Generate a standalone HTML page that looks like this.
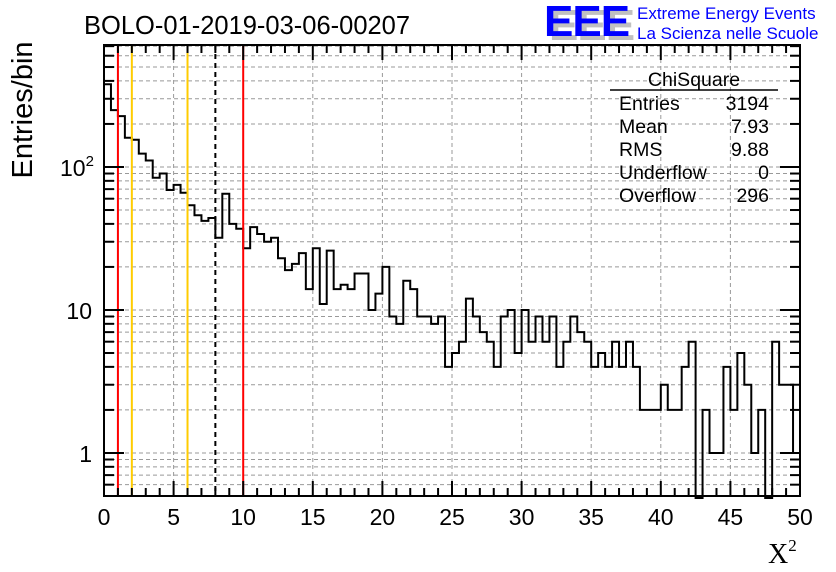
<!DOCTYPE html>
<html><head><meta charset="utf-8"><style>
body{margin:0;background:#fff}
svg{display:block;font-family:"Liberation Sans",sans-serif}
</style></head><body>
<svg id="c" width="836" height="572" viewBox="0 0 836 572">
<rect x="0" y="0" width="836" height="572" fill="#fff"/>
<g id="grid"></g>
<g id="marks"></g>
<g id="axes"></g>
<text x="84" y="34" font-size="25.5">BOLO-01-2019-03-06-00207</text>
<g>
<text x="549" y="40" font-size="44" font-weight="bold" fill="#c0c0c0" letter-spacing="-1">EEE</text>
<text x="544" y="36" font-size="44" font-weight="bold" fill="#0000ff" letter-spacing="-1">EEE</text>
<text x="637" y="19" font-size="17" fill="#0000ff">Extreme Energy Events</text>
<text x="637" y="39" font-size="17" fill="#0000ff">La Scienza nelle Scuole</text>
</g>
<g font-size="19.5">
<text x="694" y="86" text-anchor="middle">ChiSquare</text>
<line x1="610" y1="90" x2="778" y2="90" stroke="#000" stroke-width="1.5"/>
<text x="619" y="110">Entries</text><text x="769" y="110" text-anchor="end">3194</text>
<text x="619" y="133">Mean</text><text x="769" y="133" text-anchor="end">7.93</text>
<text x="619" y="156">RMS</text><text x="769" y="156" text-anchor="end">9.88</text>
<text x="619" y="179">Underflow</text><text x="769" y="179" text-anchor="end">0</text>
<text x="619" y="202">Overflow</text><text x="769" y="202" text-anchor="end">296</text>
</g>
<text transform="translate(32,110) rotate(-90)" text-anchor="middle" font-size="29">Entries/bin</text>
<text x="768" y="563" font-size="28" font-family="Liberation Serif,serif">X<tspan font-size="17" dy="-12">2</tspan></text>
</svg>
<script>
const counts = [379,250,227,160,155,124,111,84,90,69,75,66,54,46,42,44,32,65,40,37,
27,38,34,30,32,23,19,21,25,14,27,11,26,14,15,14,18,18,10,13,
20,9,8,16,14,9,9,8,9,4,5,6,12,9,7,6,4,9,10,5,
10,6,9,6,9,4,6,9,7,6,4,5,4,6,4,6,4,2,2,2,
3,2,2,4,6,0,2,1,1,4,2,5,3,1,2,0,6,3,3,1];
const xTicks = [0,5,10,15,20,25,30,35,40,45,50];
const cutLines = [{x:1,c:"#ff0000",d:""},{x:2,c:"#ffcc00",d:""},{x:6,c:"#ffcc00",d:""},{x:8,c:"#000",d:"5,4"},{x:10,c:"#ff0000",d:""}];
const binWidth = 0.5;
const X0=104,X1=800,Y0=45,Y1=496,YMIN=0.5,YMAX=713;
const NS="http://www.w3.org/2000/svg";
function sx(v){return X0+(v-0)/(50-0)*(X1-X0);}
function sy(v){return Y1-(Math.log10(v)-Math.log10(YMIN))/(Math.log10(YMAX)-Math.log10(YMIN))*(Y1-Y0);}
function mk(tag,attrs,parent){const e=document.createElementNS(NS,tag);for(const k in attrs)e.setAttribute(k,attrs[k]);parent.appendChild(e);return e;}
const grid=document.getElementById('grid'),marks=document.getElementById('marks'),axes=document.getElementById('axes');
for(const t of xTicks){if(t===0||t===50)continue;const l=mk('line',{x1:sx(t),x2:sx(t),y1:Y0,y2:Y1,stroke:'#999','stroke-dasharray':'4,3','stroke-width':1},grid);

}
const yGrid=[];
for(let d=0.1;d<=100;d*=10){for(let m=1;m<=9;m++){const v=+(m*d).toPrecision(3);if(v>=YMIN&&v<=YMAX)yGrid.push(v);}}
for(const v of yGrid){const l=mk('line',{x1:X0,x2:X1,y1:sy(v),y2:sy(v),stroke:'#999','stroke-dasharray':'4,3','stroke-width':1},grid);

}
let d="";let first=true;
for(let i=0;i<counts.length;i++){const v=counts[i];const yy=v>0?sy(v):Y1+2;const xa=sx(i*binWidth),xb=sx((i+1)*binWidth);
if(first){d+="M"+xa+","+yy;first=false;}else d+="L"+xa+","+yy;d+="L"+xb+","+yy;}
const h=mk('path',{d:d,fill:'none',stroke:'#000','stroke-width':2},marks);


for(const c of cutLines){const l=mk('line',{x1:sx(c.x),x2:sx(c.x),y1:Y0,y2:Y1,stroke:c.c,'stroke-width':2},marks);
if(c.d)l.setAttribute('stroke-dasharray',c.d);

}
const fr=mk('rect',{x:X0,y:Y0,width:X1-X0,height:Y1-Y0,fill:'none',stroke:'#000','stroke-width':2},axes);


for(let t=0;t<=50;t++){const major=t%5===0;const L=major?15:8;const x=sx(t);
mk('line',{x1:x,x2:x,y1:Y1,y2:Y1-L,stroke:'#000','stroke-width':2},axes);
mk('line',{x1:x,x2:x,y1:Y0,y2:Y0+L,stroke:'#000','stroke-width':2},axes);}
for(const t of xTicks){const tx=mk('text',{x:sx(t),y:525,'text-anchor':'middle','font-size':23},axes);tx.textContent=t;

}
for(const v of yGrid){const major=[1,10,100].includes(v);const L=major?20:10;const y=sy(v);
mk('line',{x1:X0,x2:X0+L,y1:y,y2:y,stroke:'#000','stroke-width':2},axes);
mk('line',{x1:X1,x2:X1-L,y1:y,y2:y,stroke:'#000','stroke-width':2},axes);}
const yLabs=[[1,"1"],[10,"10"]];
for(const [v,s] of yLabs){const tx=mk('text',{x:92,y:sy(v)+9,'text-anchor':'end','font-size':23},axes);tx.textContent=s;

}
const t2=mk('text',{x:60,y:sy(100)+9,'font-size':23},axes);


t2.innerHTML='10<tspan font-size="15" dy="-10">2</tspan>';
</script>
</body></html>
